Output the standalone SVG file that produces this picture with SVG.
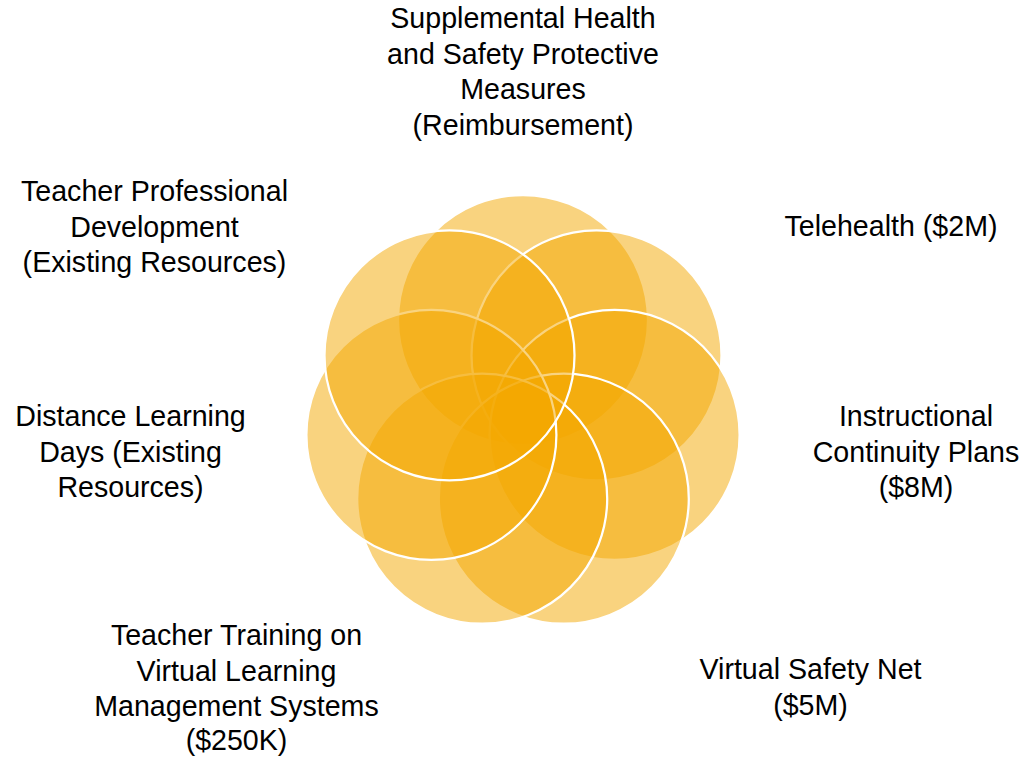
<svg xmlns="http://www.w3.org/2000/svg" width="1027" height="757" viewBox="0 0 1027 757">
<style>
.c{fill:#F4A700;fill-opacity:0.5;stroke:#FFFFFF;stroke-width:2.25}
.t{font-family:"Liberation Sans",Arial,sans-serif;font-size:28.6px;fill:#000000;text-anchor:middle}
</style>
<rect width="1027" height="757" fill="#FFFFFF"/>
<g id="connectors"></g>
<g id="node-top"><circle class="c" cx="523" cy="320" r="125"/>
<text class="t" x="523" y="28">Supplemental Health</text>
<text class="t" x="523" y="63.5">and Safety Protective</text>
<text class="t" x="523" y="99">Measures</text>
<text class="t" x="523" y="134.5">(Reimbursement)</text></g>
<g id="node-upper-right"><circle class="c" cx="596.5" cy="355.4" r="125"/>
<text class="t" x="891" y="236">Telehealth ($2M)</text></g>
<g id="node-right"><circle class="c" cx="614.6" cy="434.9" r="125"/>
<text class="t" x="916" y="426">Instructional</text>
<text class="t" x="916" y="461.5">Continuity Plans</text>
<text class="t" x="916" y="497">($8M)</text></g>
<g id="node-lower-right"><circle class="c" cx="563.8" cy="498.7" r="125"/>
<text class="t" x="810.5" y="679">Virtual Safety Net</text>
<text class="t" x="810.5" y="714.5">($5M)</text></g>
<g id="node-lower-left"><circle class="c" cx="482.2" cy="498.7" r="125"/>
<text class="t" x="236.5" y="645">Teacher Training on</text>
<text class="t" x="236.5" y="680.5">Virtual Learning</text>
<text class="t" x="236.5" y="716">Management Systems</text>
<text class="t" x="236.5" y="750">($250K)</text></g>
<g id="node-left"><circle class="c" cx="431.4" cy="434.9" r="125"/>
<text class="t" x="130.5" y="426">Distance Learning</text>
<text class="t" x="130.5" y="461.5">Days (Existing</text>
<text class="t" x="130.5" y="497">Resources)</text></g>
<g id="node-upper-left"><circle class="c" cx="449.5" cy="355.4" r="125"/>
<text class="t" x="154.5" y="201">Teacher Professional</text>
<text class="t" x="154.5" y="236.5">Development</text>
<text class="t" x="154.5" y="272">(Existing Resources)</text></g>
</svg>
